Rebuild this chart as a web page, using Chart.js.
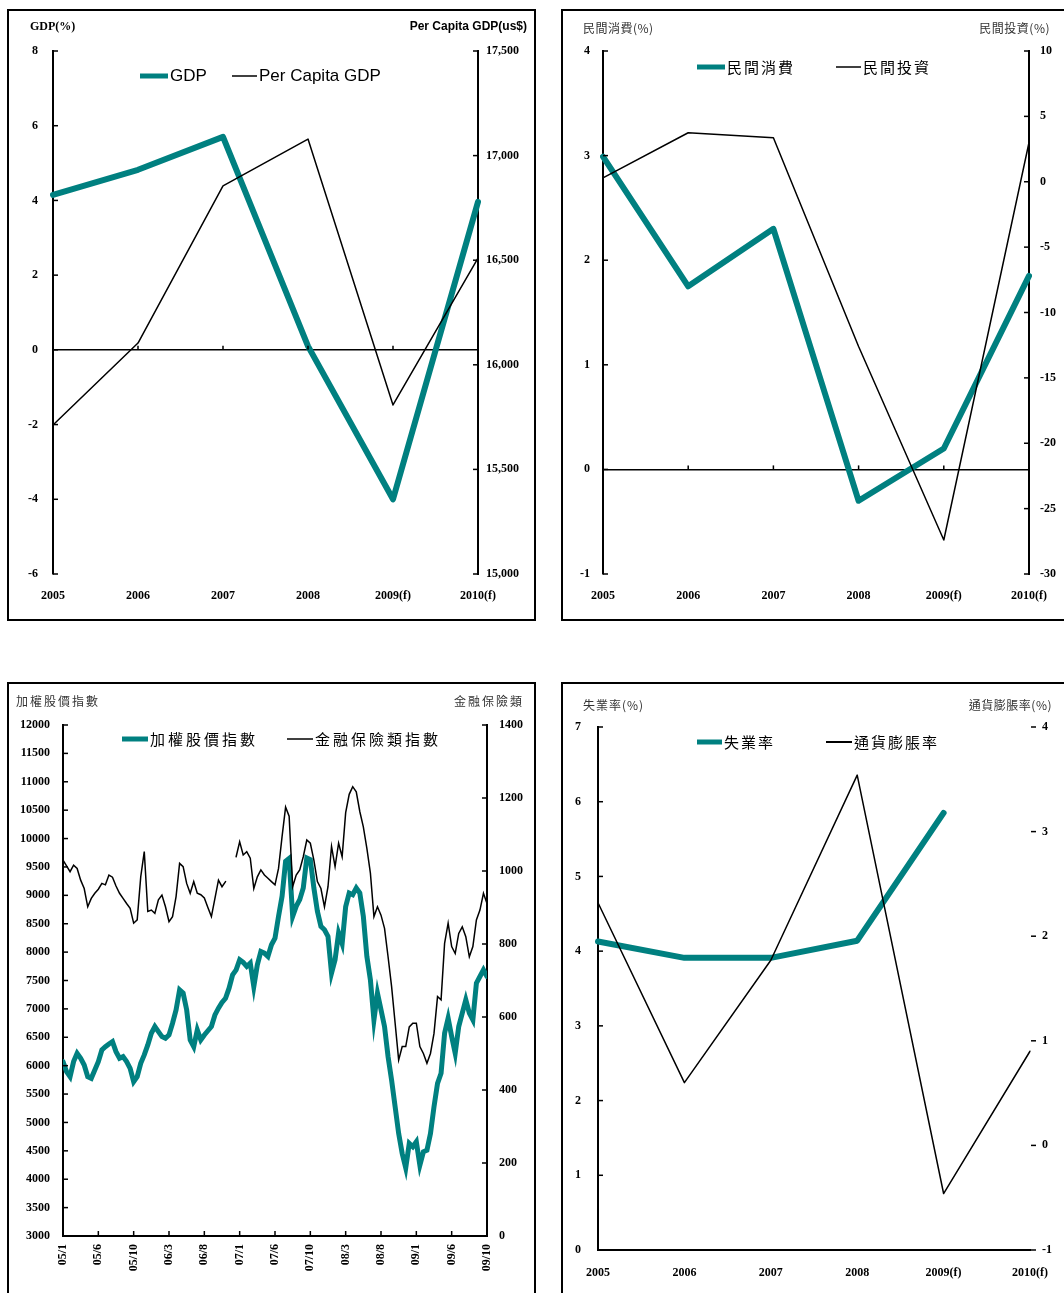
<!DOCTYPE html>
<html><head><meta charset="utf-8">
<script src="https://cdn.jsdelivr.net/npm/chart.js@4"></script>
<style>
html,body{margin:0;padding:0;background:#fff;width:1064px;height:1293px;overflow:hidden;position:relative}
.panel{position:absolute;border:2px solid #000;box-sizing:border-box;background:#fff}
canvas{position:absolute}
</style></head><body>
<div class="panel" style="left:7px;top:9px;width:529px;height:612px"></div>
<div class="panel" style="left:561px;top:9px;width:510px;height:612px"></div>
<div class="panel" style="left:7px;top:682px;width:529px;height:620px"></div>
<div class="panel" style="left:561px;top:682px;width:510px;height:620px"></div>
<canvas id="c1" width="524" height="606" style="left:9px;top:12px"></canvas>
<canvas id="c2" width="501" height="606" style="left:563px;top:12px"></canvas>
<canvas id="c3" width="524" height="608" style="left:9px;top:685px"></canvas>
<canvas id="c4" width="501" height="608" style="left:563px;top:685px"></canvas>
<script>
// ---------- DATA ----------
const gdpYears = ['2005','2006','2007','2008','2009(f)','2010(f)'];
const gdpGrowth = [4.15, 4.82, 5.70, 0.10, -4.00, 3.96];
const perCapitaGdp = [15712, 16104, 16855, 17079, 15808, 16510];
const gdpSeriesNames = ['GDP', 'Per Capita GDP'];
const gdpAxisTitles = ['GDP(%)', 'Per Capita GDP(us$)'];

const invYears = ['2005','2006','2007','2008','2009(f)','2010(f)'];
const privConsumption = [2.99, 1.75, 2.30, -0.30, 0.20, 1.85];
const privInvestment = [0.3, 3.75, 3.36, -12.6, -27.4, 3.0];
const invSeriesNames = ['民間消費', '民間投資'];
const invAxisTitles = ['民間消費(%)', '民間投資(%)'];

const stockTickLabels = ['05/1','05/6','05/10','06/3','06/8','07/1','07/6','07/10','08/3','08/8','09/1','09/6','09/10'];
const stockPointsPerTick = 10;
const taiex = [
6071,5894,5806,6071,6218,6130,6012,5806,5777,5924,
6071,6277,6335,6383,6424,6247,6130,6159,6071,5953,
5718,5806,6042,6189,6365,6571,6689,6600,6512,6483,
6541,6747,6983,7335,7277,6983,6453,6335,6630,6453,
6540,6615,6689,6894,7012,7112,7188,7365,7600,7688,
7865,7818,7747,7806,7394,7777,8012,7983,7924,8130,
8247,8630,8983,9600,9650,8630,8806,8924,9130,9659,
9630,9130,8718,8453,8394,8277,7630,7865,8335,8150,
8800,9041,9012,9130,9041,8630,7924,7512,6806,7277,
6983,6689,6159,5747,5277,4806,4453,4200,4630,4571,
4659,4247,4483,4512,4806,5277,5688,5865,6571,6836,
6512,6218,6689,6924,7159,6924,6806,7453,7571,7688,
7571];
const financeIndex = [
1030,1014,998,1016,1007,975,952,902,925,939,
950,966,962,989,983,959,939,925,911,898,
857,866,984,1053,889,893,884,921,934,902,
861,875,930,1021,1012,966,939,971,939,935,
926,900,875,925,975,957,971,null,null,1039,
1080,1044,1053,1035,952,984,1003,989,980,971,
962,1007,1094,1175,1150,957,989,1003,1039,1085,
1076,1030,971,952,902,957,1067,1012,1076,1039,
1160,1210,1231,1217,1163,1121,1062,994,875,902,
879,843,765,683,583,482,519,519,573,583,
583,519,500,473,500,555,656,647,802,857,
793,774,829,847,820,765,793,866,893,939,
911];
const stockSeriesNames = ['加權股價指數', '金融保險類指數'];
const stockAxisTitles = ['加權股價指數', '金融保險類'];

const labYears = ['2005','2006','2007','2008','2009(f)','2010(f)'];
const unemployment = [4.13, 3.91, 3.91, 4.14, 5.85, null];
const inflation = [2.32, 0.60, 1.77, 3.54, -0.46, 0.90];
const labSeriesNames = ['失業率', '通貨膨脹率'];
const labAxisTitles = ['失業率(%)', '通貨膨脹率(%)'];

// ---------- STYLE HELPERS ----------
const TEAL = '#008080';
const SERIF = '"Liberation Serif", "Times New Roman", serif';
const SANS = '"Liberation Sans", Arial, sans-serif';
const CJK = '"Noto Sans CJK TC", "Noto Sans CJK SC", sans-serif';
const tickFont = {family: SERIF, size: 12, weight: 'bold'};
const fixW = w => s => { s.width = w; };
const fixH = h => s => { s.height = h; };
const zeroGrid = c => (c.tick && c.tick.value === 0) ? '#000' : 'rgba(0,0,0,0)';
const plain = v => String(v);

const decor = {
  id: 'decor',
  afterDraw(chart, args, o) {
    const ctx = chart.ctx, ca = chart.chartArea;
    const hasLS = 'letterSpacing' in ctx;
    ctx.save();
    ctx.strokeStyle = '#000';
    ctx.lineWidth = 1.5;
    (o.marks || []).forEach(m => {
      const s = chart.scales[m.scale];
      s.ticks.forEach((tk, i) => {
        if (m.skipEnds && (i === 0 || i === s.ticks.length - 1)) return;
        const p = s.getPixelForTick(i);
        ctx.beginPath();
        if (m.side === 'left') { ctx.moveTo(ca.left, p); ctx.lineTo(ca.left + m.len, p); }
        else if (m.side === 'right') { ctx.moveTo(ca.right, p); ctx.lineTo(ca.right - m.len, p); }
        else if (m.side === 'rightOut') { ctx.moveTo(ca.right + 1, p); ctx.lineTo(ca.right + 1 + m.len, p); }
        else if (m.side === 'bottom') { ctx.moveTo(p, ca.bottom); ctx.lineTo(p, ca.bottom - m.len); }
        else if (m.side === 'zero') { const y0 = chart.scales[m.ref].getPixelForValue(0); ctx.moveTo(p, y0); ctx.lineTo(p, y0 - m.len); }
        ctx.stroke();
      });
    });
    (o.headers || []).forEach(h => {
      ctx.font = h.font; ctx.fillStyle = h.color || '#000';
      ctx.textAlign = h.align; ctx.textBaseline = 'middle';
      if (hasLS) ctx.letterSpacing = (h.sp || 0) + 'px';
      ctx.fillText(h.text, h.x, h.y);
      if (hasLS) ctx.letterSpacing = '0px';
    });
    (o.legend || []).forEach(l => {
      const ds = chart.data.datasets[l.ds];
      ctx.strokeStyle = ds.borderColor; ctx.lineWidth = l.lw; ctx.lineCap = 'butt';
      ctx.beginPath(); ctx.moveTo(l.x1, l.y); ctx.lineTo(l.x2, l.y); ctx.stroke();
      ctx.font = l.font; ctx.fillStyle = '#000'; ctx.textAlign = 'left'; ctx.textBaseline = 'middle';
      if (hasLS) ctx.letterSpacing = (l.sp || 0) + 'px';
      ctx.fillText(ds.label, l.x2 + 2, l.y + (l.dy || 0));
      if (hasLS) ctx.letterSpacing = '0px';
    });
    ctx.restore();
  }
};

const baseOpts = {responsive: false, animation: false, devicePixelRatio: 1};
const lineDs = (label, data, axis, color, width, order) => ({
  label, data, yAxisID: axis, borderColor: color, backgroundColor: color, borderWidth: width,
  pointRadius: 0, tension: 0, order, spanGaps: false, borderJoinStyle: 'round', borderCapStyle: 'round', fill: false
});

// ---------- CHART 1: GDP ----------
new Chart(document.getElementById('c1'), {
  type: 'line',
  data: {labels: gdpYears, datasets: [
    lineDs(gdpSeriesNames[0], gdpGrowth, 'yL', TEAL, 6, 1),
    lineDs(gdpSeriesNames[1], perCapitaGdp, 'yR', '#000', 1.5, 0)
  ]},
  options: Object.assign({}, baseOpts, {
    layout: {padding: {top: 39, left: 0, right: 0, bottom: 0}},
    plugins: {legend: {display: false}, tooltip: {enabled: false},
      decor: {
        marks: [{scale: 'yL', side: 'left', len: 5}, {scale: 'yR', side: 'right', len: 5},
                {scale: 'x', side: 'zero', ref: 'yL', len: 4, skipEnds: true}],
        headers: [{text: gdpAxisTitles[0], x: 21, y: 15, align: 'left', font: 'bold 12px ' + SERIF},
                  {text: gdpAxisTitles[1], x: 518, y: 15, align: 'right', font: 'bold 12px ' + SANS}],
        legend: [{ds: 0, x1: 131, x2: 159, y: 64, lw: 5, font: '17px ' + SANS},
                 {ds: 1, x1: 223, x2: 248, y: 64, lw: 1.5, font: '17px ' + SANS}]
      }},
    scales: {
      x: {type: 'category', offset: false, grid: {display: false, drawTicks: false}, border: {display: false},
          ticks: {font: tickFont, color: '#000', padding: 15, maxRotation: 0, autoSkip: false}, afterFit: fixH(44)},
      yL: {position: 'left', min: -6, max: 8, ticks: {stepSize: 2, font: tickFont, color: '#000', padding: 15},
           grid: {drawTicks: false, color: zeroGrid, lineWidth: 1.5}, border: {display: true, color: '#000', width: 2}, afterFit: fixW(44)},
      yR: {position: 'right', min: 15000, max: 17500, ticks: {stepSize: 500, font: tickFont, color: '#000', padding: 8, callback: v => v.toLocaleString('en-US')},
           grid: {display: false, drawTicks: false}, border: {display: true, color: '#000', width: 2}, afterFit: fixW(55)}
    }
  }),
  plugins: [decor]
});

// ---------- CHART 2: consumption / investment ----------
new Chart(document.getElementById('c2'), {
  type: 'line',
  data: {labels: invYears, datasets: [
    lineDs(invSeriesNames[0], privConsumption, 'yL', TEAL, 6, 1),
    lineDs(invSeriesNames[1], privInvestment, 'yR', '#000', 1.5, 0)
  ]},
  options: Object.assign({}, baseOpts, {
    layout: {padding: {top: 39, left: 0, right: 0, bottom: 0}},
    plugins: {legend: {display: false}, tooltip: {enabled: false},
      decor: {
        marks: [{scale: 'yL', side: 'left', len: 5}, {scale: 'yR', side: 'right', len: 5},
                {scale: 'x', side: 'zero', ref: 'yL', len: 4, skipEnds: true}],
        headers: [{text: invAxisTitles[0], x: 20, y: 16, align: 'left', font: '12px ' + CJK, color: '#333', sp: 0.5},
                  {text: invAxisTitles[1], x: 487, y: 16, align: 'right', font: '12px ' + CJK, color: '#333', sp: 0.5}],
        legend: [{ds: 0, x1: 134, x2: 162, y: 55, lw: 5, font: '15px ' + CJK, sp: 2},
                 {ds: 1, x1: 273, x2: 298, y: 55, lw: 1.5, font: '15px ' + CJK, sp: 2}]
      }},
    scales: {
      x: {type: 'category', offset: false, grid: {display: false, drawTicks: false}, border: {display: false},
          ticks: {font: tickFont, color: '#000', padding: 15, maxRotation: 0, autoSkip: false}, afterFit: fixH(44)},
      yL: {position: 'left', min: -1, max: 4, ticks: {stepSize: 1, font: tickFont, color: '#000', padding: 13},
           grid: {drawTicks: false, color: zeroGrid, lineWidth: 1.5}, border: {display: true, color: '#000', width: 2}, afterFit: fixW(40)},
      yR: {position: 'right', min: -30, max: 10, ticks: {stepSize: 5, font: tickFont, color: '#000', padding: 11},
           grid: {display: false, drawTicks: false}, border: {display: true, color: '#000', width: 2}, afterFit: fixW(35)}
    }
  }),
  plugins: [decor]
});

// ---------- CHART 3: stock indices ----------
const toXY = arr => arr.map((v, i) => ({x: i, y: v}));
new Chart(document.getElementById('c3'), {
  type: 'line',
  data: {datasets: [
    Object.assign(lineDs(stockSeriesNames[0], toXY(taiex), 'yL', TEAL, 5, 1), {borderJoinStyle: 'miter'}),
    Object.assign(lineDs(stockSeriesNames[1], toXY(financeIndex), 'yR', '#000', 1.5, 0), {borderJoinStyle: 'miter'})
  ]},
  options: Object.assign({}, baseOpts, {
    layout: {padding: {top: 40, left: 0, right: 0, bottom: 0}},
    plugins: {legend: {display: false}, tooltip: {enabled: false},
      decor: {
        marks: [{scale: 'yL', side: 'left', len: 5}, {scale: 'yR', side: 'right', len: 5},
                {scale: 'x', side: 'bottom', len: 5}],
        headers: [{text: stockAxisTitles[0], x: 7, y: 16, align: 'left', font: '12px ' + CJK, color: '#333', sp: 2},
                  {text: stockAxisTitles[1], x: 515, y: 16, align: 'right', font: '12px ' + CJK, color: '#333', sp: 2}],
        legend: [{ds: 0, x1: 113, x2: 139, y: 54, lw: 5, font: '15px ' + CJK, sp: 3},
                 {ds: 1, x1: 278, x2: 304, y: 54, lw: 1.5, font: '15px ' + CJK, sp: 3}]
      }},
    scales: {
      x: {type: 'linear', min: 0, max: (stockTickLabels.length - 1) * stockPointsPerTick,
          grid: {display: false, drawTicks: false}, border: {display: true, color: '#000', width: 2},
          ticks: {stepSize: stockPointsPerTick, font: tickFont, color: '#000', padding: 8, minRotation: 90, maxRotation: 90, autoSkip: false,
                  callback: v => stockTickLabels[Math.round(v / stockPointsPerTick)]},
          afterFit: fixH(57)},
      yL: {position: 'left', min: 3000, max: 12000, ticks: {stepSize: 500, font: tickFont, color: '#000', padding: 13, callback: plain},
           grid: {display: false, drawTicks: false}, border: {display: true, color: '#000', width: 2}, afterFit: fixW(54)},
      yR: {position: 'right', min: 0, max: 1400, ticks: {stepSize: 200, font: tickFont, color: '#000', padding: 12, callback: plain},
           grid: {display: false, drawTicks: false}, border: {display: true, color: '#000', width: 2}, afterFit: fixW(46)}
    }
  }),
  plugins: [decor]
});

// ---------- CHART 4: unemployment / inflation ----------
new Chart(document.getElementById('c4'), {
  type: 'line',
  data: {labels: labYears, datasets: [
    lineDs(labSeriesNames[0], unemployment, 'yL', TEAL, 6, 1),
    lineDs(labSeriesNames[1], inflation, 'yR', '#000', 1.5, 0)
  ]},
  options: Object.assign({}, baseOpts, {
    layout: {padding: {top: 42, left: 0, right: 0, bottom: 0}},
    plugins: {legend: {display: false}, tooltip: {enabled: false},
      decor: {
        marks: [{scale: 'yL', side: 'left', len: 5}, {scale: 'yR', side: 'rightOut', len: 5}],
        headers: [{text: labAxisTitles[0], x: 20, y: 20, align: 'left', font: '12px ' + CJK, color: '#333', sp: 1},
                  {text: labAxisTitles[1], x: 489, y: 20, align: 'right', font: '12px ' + CJK, color: '#333', sp: 0.5}],
        legend: [{ds: 0, x1: 134, x2: 159, y: 57, lw: 5, font: '15px ' + CJK, sp: 2},
                 {ds: 1, x1: 263, x2: 289, y: 57, lw: 2, font: '15px ' + CJK, sp: 2}]
      }},
    scales: {
      x: {type: 'category', offset: false, grid: {display: false, drawTicks: false}, border: {display: true, color: '#000', width: 2},
          ticks: {font: tickFont, color: '#000', padding: 16, maxRotation: 0, autoSkip: false}, afterFit: fixH(43)},
      yL: {position: 'left', min: 0, max: 7, ticks: {stepSize: 1, font: tickFont, color: '#000', padding: 17},
           grid: {display: false, drawTicks: false}, border: {display: true, color: '#000', width: 2}, afterFit: fixW(35)},
      yR: {position: 'right', min: -1, max: 4, ticks: {stepSize: 1, font: tickFont, color: '#000', padding: 12},
           grid: {display: false, drawTicks: false}, border: {display: false}, afterFit: fixW(31)}
    }
  }),
  plugins: [decor]
});
</script>
</body></html>
